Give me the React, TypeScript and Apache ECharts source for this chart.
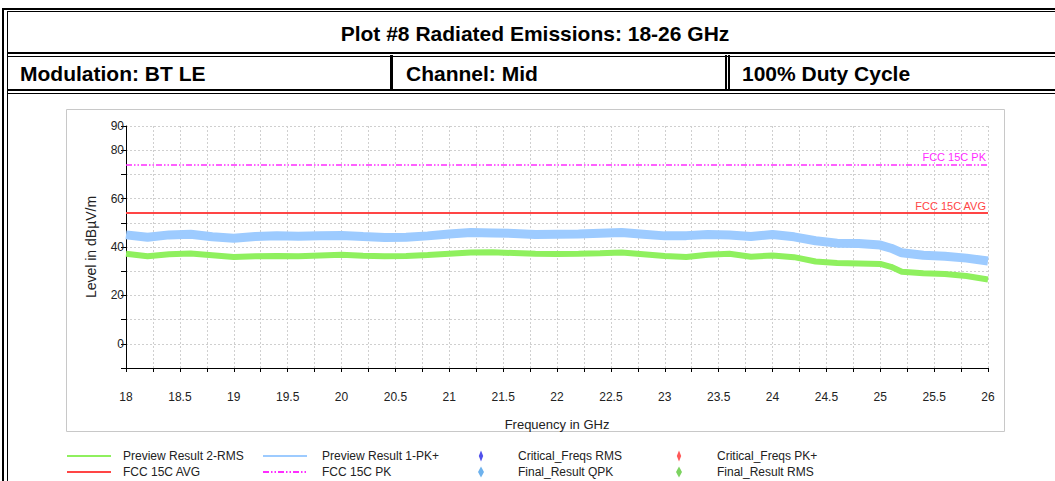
import React, { useEffect, useRef } from "react";
import * as echarts from "echarts";

const FONT = "'Liberation Sans', Arial, Helvetica, sans-serif";

const TITLE = "Plot #8 Radiated Emissions: 18-26 GHz";
const HEADER_CELLS = ["Modulation: BT LE", "Channel: Mid", "100% Duty Cycle"];

const X_MIN = 18;
const X_MAX = 26;
const X_STEP = 0.25;
const Y_MIN = -10;
const Y_MAX = 90;
const Y_STEP = 10;
const Y_LABELED = [0, 20, 40, 60, 80, 90];

const X_NAME = "Frequency in GHz";
const Y_NAME = "Level in dBµV/m";

// Frequencies in GHz
const FREQS = [
  18.0, 18.2, 18.4, 18.6, 18.8, 19.0, 19.2, 19.4, 19.6, 19.8, 20.0, 20.2, 20.4, 20.6,
  20.8, 21.0, 21.2, 21.4, 21.6, 21.8, 22.0, 22.2, 22.4, 22.6, 22.8, 23.0, 23.2, 23.4,
  23.6, 23.8, 24.0, 24.2, 24.4, 24.6, 24.8, 25.0, 25.1, 25.2, 25.4, 25.6, 25.8, 26.0,
];

// Preview Result 1-PK+ (dBµV/m)
const PK_VALUES = [
  45.0, 44.0, 45.0, 45.3, 44.2, 43.6, 44.3, 44.6, 44.4, 44.6, 44.8, 44.3, 43.9, 44.0,
  44.6, 45.4, 46.0, 45.8, 45.6, 45.2, 45.3, 45.4, 45.7, 46.0, 45.3, 44.6, 44.7, 45.2,
  45.0, 44.3, 45.2, 44.2, 42.6, 41.6, 41.4, 40.8, 39.5, 37.6, 36.6, 36.2, 35.4, 34.2,
];

// Preview Result 2-RMS (dBµV/m)
const RMS_VALUES = [
  37.2, 36.2, 37.0, 37.3, 36.6, 35.9, 36.2, 36.3, 36.2, 36.5, 36.8, 36.4, 36.2, 36.3,
  36.7, 37.2, 37.7, 37.8, 37.5, 37.2, 37.1, 37.2, 37.4, 37.7, 37.0, 36.3, 35.9, 36.8,
  37.2, 36.0, 36.5, 35.8, 34.0, 33.4, 33.2, 33.0, 31.8, 29.8, 29.2, 28.8, 28.0, 26.6,
];

const LIMIT_AVG = 54;
const LIMIT_PK = 74;

const NAMES = {
  rms: "Preview Result 2-RMS",
  pk: "Preview Result 1-PK+",
  critRms: "Critical_Freqs RMS",
  critPk: "Critical_Freqs PK+",
  avgLimit: "FCC 15C AVG",
  pkLimit: "FCC 15C PK",
  finalQpk: "Final_Result QPK",
  finalRms: "Final_Result RMS",
};

const C = {
  rms: "#8ff05e",
  pk: "#9dcbff",
  critRms: "#2424e6",
  critPk: "#ff2f2f",
  avgLimit: "#ff4545",
  pkLimit: "#ff2cff",
  finalQpk: "#4a9fe8",
  finalRms: "#5cc83a",
};

function rect(x: number, y: number, w: number, h: number, fill = "#000") {
  return { type: "rect", shape: { x, y, width: w, height: h }, style: { fill }, silent: true };
}

function text(t: string, x: number, y: number, font: string, align = "left") {
  return {
    type: "text",
    x,
    y,
    silent: true,
    style: { text: t, font, textAlign: align, textVerticalAlign: "middle", fill: "#000" },
  };
}

const DIAMOND_SMALL = "path://M2,0 L4,5 L2,10 L0,5 Z";
const DIAMOND_BIG = "path://M3,0 L6,5.5 L3,11 L0,5.5 Z";

export default function App() {
  const ref = useRef<HTMLDivElement>(null);

  useEffect(() => {
    if (!ref.current) return;
    const chart = echarts.init(ref.current, null, { renderer: "svg" });

    const headFont = `bold 21px ${FONT}`;
    const graphicEls: any[] = [
      // outer border
      rect(2, 8, 1053, 2),
      rect(7, 11, 1048, 1),
      rect(2, 8, 2, 473),
      rect(7, 11, 1, 470),
      // row separators
      rect(7, 52, 1048, 2),
      rect(7, 56, 1048, 1),
      rect(7, 89, 1048, 2),
      rect(7, 93, 1048, 1),
      // column separators in row 2
      rect(390, 55, 3, 35),
      rect(725, 55, 2, 35),
      rect(728, 55, 2, 35),
      // chart panel
      {
        type: "rect",
        silent: true,
        shape: { x: 66.5, y: 109.5, width: 938, height: 322 },
        style: { fill: "none", stroke: "#c8c8c8", lineWidth: 1 },
      },
      text(TITLE, 535, 33, headFont, "center"),
      text(HEADER_CELLS[0], 20, 73, headFont),
      text(HEADER_CELLS[1], 406, 73, headFont),
      text(HEADER_CELLS[2], 742, 73, headFont),
    ];

    const legendBase = {
      orient: "vertical",
      top: 450,
      height: 80,
      padding: 0,
      itemHeight: 11,
      itemGap: 4,
      selectedMode: false,
      symbolKeepAspect: true,
      textStyle: { fontSize: 12, color: "#222", fontFamily: FONT },
      lineStyle: { width: 2 },
    };

    const option: any = {
      animation: false,
      backgroundColor: "#fff",
      textStyle: { fontFamily: FONT },
      graphic: { elements: graphicEls },
      grid: {
        left: 126,
        right: 67,
        top: 126,
        bottom: 113,
        containLabel: false,
        outerBoundsMode: "none",
      },
      legend: [
        {
          ...legendBase,
          left: 66,
          itemWidth: 44,
          itemStyle: { opacity: 0 },
          textStyle: { ...legendBase.textStyle, padding: [0, 0, 0, 7] },
          data: [NAMES.rms, NAMES.avgLimit],
        },
        {
          ...legendBase,
          left: 262,
          itemWidth: 44,
          itemStyle: { opacity: 0 },
          textStyle: { ...legendBase.textStyle, padding: [0, 0, 0, 10] },
          data: [NAMES.pk, NAMES.pkLimit],
        },
        {
          ...legendBase,
          left: 478,
          itemWidth: 8,
          textStyle: { ...legendBase.textStyle, padding: [0, 0, 0, 28] },
          data: [
            { name: NAMES.critRms, icon: DIAMOND_SMALL },
            { name: NAMES.finalQpk, icon: DIAMOND_BIG },
          ],
        },
        {
          ...legendBase,
          left: 676,
          itemWidth: 8,
          textStyle: { ...legendBase.textStyle, padding: [0, 0, 0, 29] },
          data: [
            { name: NAMES.critPk, icon: DIAMOND_SMALL },
            { name: NAMES.finalRms, icon: DIAMOND_BIG },
          ],
        },
      ],
      xAxis: {
        type: "value",
        min: X_MIN,
        max: X_MAX,
        interval: X_STEP,
        name: X_NAME,
        nameLocation: "middle",
        nameGap: 50,
        nameTextStyle: { fontSize: 13, color: "#222", fontFamily: FONT },
        axisLine: { show: true, onZero: false, lineStyle: { color: "#000", width: 1 } },
        axisTick: { show: true, inside: false, length: 4, lineStyle: { color: "#000" } },
        axisLabel: {
          fontSize: 12,
          color: "#222",
          margin: 23,
          fontFamily: FONT,
          formatter: (v: number) =>
            Math.abs(v * 2 - Math.round(v * 2)) < 1e-6 ? String(v) : "",
        },
        splitLine: { show: true, lineStyle: { color: "#cfcfcf", type: [2, 2], width: 1 } },
      },
      yAxis: {
        type: "value",
        min: Y_MIN,
        max: Y_MAX,
        interval: Y_STEP,
        name: Y_NAME,
        nameLocation: "middle",
        nameGap: 28,
        nameTextStyle: { fontSize: 14, color: "#222", fontFamily: FONT },
        axisLine: { show: true, onZero: false, lineStyle: { color: "#000", width: 1 } },
        axisTick: { show: true, inside: false, length: 5, lineStyle: { color: "#000" } },
        axisLabel: {
          fontSize: 12,
          color: "#222",
          margin: 2,
          fontFamily: FONT,
          formatter: (v: number) => (Y_LABELED.includes(v) ? String(v) : ""),
        },
        splitLine: { show: true, lineStyle: { color: "#cfcfcf", type: [2, 2], width: 1 } },
      },
      series: [
        {
          name: NAMES.rms,
          type: "line",
          symbol: "none",
          data: FREQS.map((f, i) => [f, RMS_VALUES[i]]),
          lineStyle: { color: C.rms, width: 6 },
          itemStyle: { color: C.rms, opacity: 0 },
          z: 3,
        },
        {
          name: NAMES.pk,
          type: "line",
          symbol: "none",
          data: FREQS.map((f, i) => [f, PK_VALUES[i]]),
          lineStyle: { color: C.pk, width: 9 },
          itemStyle: { color: C.pk, opacity: 0 },
          z: 2,
        },
        {
          name: NAMES.critRms,
          type: "scatter",
          symbol: "diamond",
          data: [],
          itemStyle: { color: C.critRms },
        },
        {
          name: NAMES.critPk,
          type: "scatter",
          symbol: "diamond",
          data: [],
          itemStyle: { color: C.critPk },
        },
        {
          name: NAMES.avgLimit,
          type: "line",
          symbol: "none",
          data: [],
          lineStyle: { color: C.avgLimit, width: 2 },
          itemStyle: { color: C.avgLimit, opacity: 0 },
          markLine: {
            silent: true,
            symbol: "none",
            data: [{ yAxis: LIMIT_AVG }],
            lineStyle: { color: C.avgLimit, width: 2, type: "solid", opacity: 1 },
            label: {
              show: true,
              position: "insideEndTop",
              formatter: NAMES.avgLimit,
              color: C.avgLimit,
              fontSize: 11,
              fontFamily: FONT,
              distance: 2,
            },
          },
        },
        {
          name: NAMES.pkLimit,
          type: "line",
          symbol: "none",
          data: [],
          lineStyle: { color: C.pkLimit, width: 1.5, type: [6, 2, 1.5, 2, 1.5, 2] },
          itemStyle: { color: C.pkLimit, opacity: 0 },
          markLine: {
            silent: true,
            symbol: "none",
            data: [{ yAxis: LIMIT_PK }],
            lineStyle: { color: C.pkLimit, width: 1.5, type: [6, 2, 1.5, 2, 1.5, 2], opacity: 1 },
            label: {
              show: true,
              position: "insideEndTop",
              formatter: NAMES.pkLimit,
              color: C.pkLimit,
              fontSize: 11,
              fontFamily: FONT,
              distance: 2,
            },
          },
        },
        {
          name: NAMES.finalQpk,
          type: "scatter",
          symbol: "diamond",
          data: [],
          itemStyle: { color: C.finalQpk },
        },
        {
          name: NAMES.finalRms,
          type: "scatter",
          symbol: "diamond",
          data: [],
          itemStyle: { color: C.finalRms },
        },
      ],
    };

    chart.setOption(option);
    return () => chart.dispose();
  }, []);

  return (
    <div
      ref={ref}
      style={{
        position: "absolute",
        left: 0,
        top: 0,
        width: 1055,
        height: 481,
        background: "#fff",
      }}
    />
  );
}
